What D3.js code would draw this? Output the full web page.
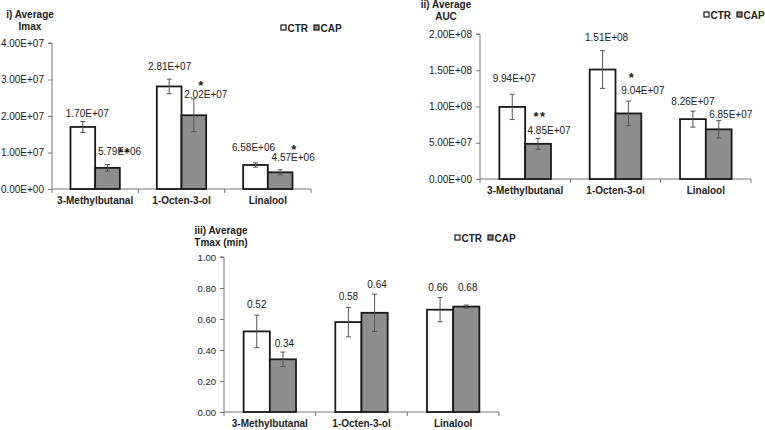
<!DOCTYPE html>
<html><head><meta charset="utf-8">
<script src="https://cdn.jsdelivr.net/npm/d3@7"></script>
<style>
html,body{margin:0;padding:0;background:#fff;}
svg text{font-family:"Liberation Sans",Arial,sans-serif;}
</style></head>
<body>
<svg id="chart" width="765" height="430"></svg>
<script>
// ---------- DATA ----------
const categories = ["3-Methylbutanal", "1-Octen-3-ol", "Linalool"];
const seriesNames = ["CTR", "CAP"];

const imaxTicks = [0, 1e7, 2e7, 3e7, 4e7];
const imaxCTR = [1.70e7, 2.81e7, 6.58e6];
const imaxCAP = [5.79e6, 2.02e7, 4.57e6];
const imaxErrCTR = [0.15e7, 0.20e7, 0.06e7];
const imaxErrCAP = [0.09e7, 0.45e7, 0.07e7];
const imaxStarsCAP = ["**", "*", "*"];

const aucTicks = [0, 5e7, 1e8, 1.5e8, 2e8];
const aucCTR = [9.94e7, 1.51e8, 8.26e7];
const aucCAP = [4.85e7, 9.04e7, 6.85e7];
const aucErrCTR = [1.74e7, 2.60e7, 1.10e7];
const aucErrCAP = [0.75e7, 1.70e7, 1.20e7];
const aucStarsCAP = ["**", "*", ""];

const tmaxTicks = [0, 0.2, 0.4, 0.6, 0.8, 1.0];
const tmaxCTR = [0.52, 0.58, 0.66];
const tmaxCAP = [0.34, 0.64, 0.68];
const tmaxErrCTR = [0.105, 0.095, 0.078];
const tmaxErrCAP = [0.047, 0.12, 0.01];
const tmaxStarsCAP = ["", "", ""];

// ---------- FORMATS ----------
function sci(v) {
  const s = d3.format(".2e")(v);           // e.g. 1.70e+7
  const m = s.match(/^(-?[\d.]+)e([+-])(\d+)$/);
  return m[1] + "E" + m[2] + (m[3].length < 2 ? "0" + m[3] : m[3]);
}
const fix2 = d3.format(".2f");

// ---------- LAYOUT (label nudges relative to bar centre / bar top, px) ----------
const panels = [
  {
    title: ["i) Average", "Imax"], titleX: 30, titleY: 18,
    x0: 52, x1: 311, yTop: 43, yBot: 189,
    ticks: imaxTicks, fmt: sci, tickFont: 10,
    ctr: imaxCTR, cap: imaxCAP, eCtr: imaxErrCTR, eCap: imaxErrCAP, stars: imaxStarsCAP,
    nudgeCtr: [[4.5, -14], [0.5, -20], [-2, -18]],
    nudgeCap: [[12, -16], [12, -21], [13, -15]],
    nudgeStar: [[17, -18], [7, -32], [13.5, -25]],
    legendX: 281, legendY: 28
  },
  {
    title: ["ii) Average", "AUC"], titleX: 446, titleY: 8,
    x0: 480, x1: 751, yTop: 34, yBot: 179,
    ticks: aucTicks, fmt: sci, tickFont: 10,
    ctr: aucCTR, cap: aucCAP, eCtr: aucErrCTR, eCap: aucErrCAP, stars: aucStarsCAP,
    nudgeCtr: [[2, -29], [4, -32], [0, -17.5]],
    nudgeCap: [[11, -13], [14.5, -23], [12, -15]],
    nudgeStar: [[2, -30], [3, -38], [0, 0]],
    legendX: 704, legendY: 15
  },
  {
    title: ["iii) Average", "Tmax (min)"], titleX: 221, titleY: 234,
    x0: 224, x1: 499, yTop: 257, yBot: 412,
    ticks: tmaxTicks, fmt: fix2, tickFont: 9.5,
    ctr: tmaxCTR, cap: tmaxCAP, eCtr: tmaxErrCTR, eCap: tmaxErrCAP, stars: tmaxStarsCAP,
    nudgeCtr: [[0, -27], [0, -26], [-2, -22]],
    nudgeCap: [[1.5, -16], [2.5, -28], [1.5, -19]],
    nudgeStar: [[0, 0], [0, 0], [0, 0]],
    legendX: 455, legendY: 238
  }
];

const fills = { CTR: "#ffffff", CAP: "#8e8e8e" };
const svg = d3.select("#chart");

panels.forEach(p => {
  const g = svg.append("g");
  const yMax = p.ticks[p.ticks.length - 1];
  const y = d3.scaleLinear().domain([0, yMax]).range([p.yBot, p.yTop]);
  const x = d3.scaleBand().domain(categories).range([p.x0, p.x1]).padding(0);
  const xs = d3.scaleBand().domain(seriesNames).range([0, x.bandwidth()])
    .paddingInner(0).paddingOuter(0.75);

  // title
  const t = g.append("text").attr("x", p.titleX).attr("y", p.titleY)
    .attr("text-anchor", "middle").attr("font-weight", "bold")
    .attr("font-size", 10).attr("fill", "#222");
  p.title.forEach((line, i) => {
    t.append("tspan").attr("x", p.titleX).attr("dy", i === 0 ? 0 : 11.5).text(line);
  });

  // y axis
  const ya = g.append("g").attr("transform", `translate(${p.x0},0)`)
    .call(d3.axisLeft(y).tickValues(p.ticks).tickFormat(p.fmt).tickSize(4).tickPadding(4));
  ya.select(".domain").attr("stroke", "#777").attr("d", `M-4,${p.yTop}H0V${p.yBot}`);
  ya.selectAll(".tick line").attr("stroke", "#777");
  ya.selectAll(".tick text").attr("font-size", p.tickFont).attr("fill", "#222")
    .attr("font-family", "Liberation Sans, Arial, sans-serif");

  // x axis
  const xa = g.append("g").attr("transform", `translate(0,${p.yBot})`);
  xa.append("line").attr("x1", p.x0).attr("x2", p.x1).attr("y1", 0).attr("y2", 0)
    .attr("stroke", "#777");
  const bounds = categories.map(c => x(c)).concat([p.x1]);
  xa.selectAll("line.tk").data(bounds).join("line").attr("class", "tk")
    .attr("x1", d => d).attr("x2", d => d).attr("y1", 0).attr("y2", 4).attr("stroke", "#777");
  xa.selectAll("text").data(categories).join("text")
    .attr("x", d => x(d) + x.bandwidth() / 2).attr("y", 15)
    .attr("text-anchor", "middle").attr("font-weight", "bold").attr("font-size", 10)
    .attr("fill", "#222").text(d => d);

  // bars
  const rows = [];
  categories.forEach((c, i) => {
    rows.push({ c, s: "CTR", v: p.ctr[i], e: p.eCtr[i], n: p.nudgeCtr[i], star: "" , ns: null});
    rows.push({ c, s: "CAP", v: p.cap[i], e: p.eCap[i], n: p.nudgeCap[i], star: p.stars[i], ns: p.nudgeStar[i]});
  });
  const bx = d => x(d.c) + xs(d.s);
  const bw = xs.bandwidth();

  g.selectAll("rect.bar").data(rows).join("rect").attr("class", "bar")
    .attr("x", bx).attr("width", bw)
    .attr("y", d => y(d.v)).attr("height", d => p.yBot - y(d.v))
    .attr("fill", d => fills[d.s]).attr("stroke", "#1a1a1a").attr("stroke-width", 1.8);

  // error bars
  const eg = g.selectAll("g.err").data(rows).join("g").attr("class", "err")
    .attr("stroke", "#555").attr("stroke-width", 1);
  eg.append("line").attr("x1", d => bx(d) + bw / 2).attr("x2", d => bx(d) + bw / 2)
    .attr("y1", d => y(d.v + d.e)).attr("y2", d => y(d.v - d.e));
  eg.append("line").attr("x1", d => bx(d) + bw / 2 - 2.5).attr("x2", d => bx(d) + bw / 2 + 2.5)
    .attr("y1", d => y(d.v + d.e)).attr("y2", d => y(d.v + d.e));
  eg.append("line").attr("x1", d => bx(d) + bw / 2 - 2.5).attr("x2", d => bx(d) + bw / 2 + 2.5)
    .attr("y1", d => y(d.v - d.e)).attr("y2", d => y(d.v - d.e));

  // value labels
  g.selectAll("text.val").data(rows).join("text").attr("class", "val")
    .attr("x", d => bx(d) + bw / 2 + d.n[0]).attr("y", d => y(d.v) + d.n[1] + 3.6)
    .attr("text-anchor", "middle").attr("font-size", 10).attr("fill", "#222")
    .text(d => p.fmt(d.v));

  // significance stars
  g.selectAll("text.star").data(rows.filter(d => d.star)).join("text").attr("class", "star")
    .attr("x", d => bx(d) + bw / 2 + d.ns[0]).attr("y", d => y(d.v) + d.ns[1] + 7)
    .attr("text-anchor", "middle").attr("font-size", 13).attr("font-weight", "bold")
    .attr("letter-spacing", d => d.star.length > 1 ? 1.5 : 0)
    .attr("fill", "#222").text(d => d.star);

  // legend
  const lg = g.append("g").attr("transform", `translate(${p.legendX},${p.legendY})`);
  const offs = [0, 33];
  seriesNames.forEach((s, i) => {
    lg.append("rect").attr("x", offs[i]).attr("y", -3).attr("width", 5).attr("height", 5)
      .attr("fill", fills[s]).attr("stroke", "#1a1a1a").attr("stroke-width", 1.2);
    lg.append("text").attr("x", offs[i] + 6.5).attr("y", 3.6)
      .attr("font-size", 10).attr("font-weight", "bold").attr("fill", "#222").text(s);
  });
});
</script>
</body></html>
